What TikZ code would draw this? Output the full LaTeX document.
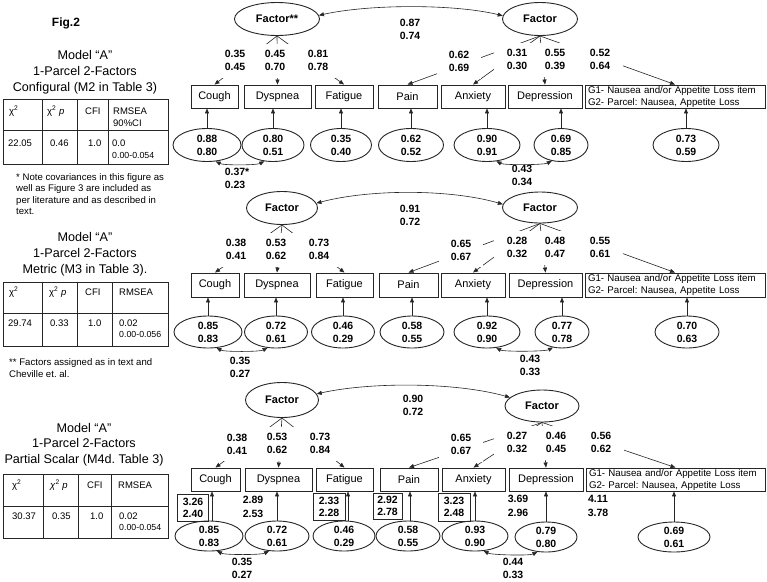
\documentclass[tikz,border=0pt]{standalone}
\usepackage{fontspec}
\setmainfont{Liberation Sans}
\usetikzlibrary{shapes.geometric,arrows.meta}
\frenchspacing
\begin{document}
\begin{tikzpicture}[x=1pt,y=-1pt,
 ln/.style={draw=black!85, line width=0.6pt},
 conn/.style={ln, -{Triangle[length=5pt,width=4pt]}},
 cov/.style={ln, {Triangle[length=5pt,width=4pt]}-{Triangle[length=5pt,width=4pt]}},
 ind/.style={draw=black!85, line width=0.9pt, inner sep=0pt, minimum height=23pt, font=\fontsize{11}{13}\selectfont},
 lat/.style={ellipse, draw=black!85, line width=0.9pt, inner sep=-2pt, font=\bfseries\fontsize{11}{13}\selectfont},
 err/.style={ellipse, draw=black!85, line width=0.9pt, inner sep=-2pt, minimum height=33pt, align=center, font=\bfseries\fontsize{10.5}{13}\selectfont},
 num/.style={align=center, inner sep=0pt, font=\bfseries\fontsize{10.5}{13}\selectfont},
 lab/.style={num, fill=white, minimum width=46pt, minimum height=34pt},
 icb/.style={num, draw=black!85, line width=0.8pt, font=\bfseries\fontsize{10.5}{12}\selectfont},
 icn/.style={num, font=\bfseries\fontsize{10.5}{13.5}\selectfont},
 gbox/.style={ind, align=left, inner xsep=3pt, text width=174pt, font=\fontsize{9.7}{12}\selectfont},
 tbl/.style={draw=black!85, line width=0.9pt},
 tt/.style={anchor=base west, inner sep=0pt, font=\fontsize{9.5}{12}\selectfont},
 ts/.style={anchor=base west, inner sep=0pt, font=\fontsize{8.8}{11}\selectfont},
 ttl/.style={align=center, inner sep=0pt, font=\fontsize{12.6}{16}\selectfont},
 note/.style={align=left, anchor=west, inner sep=0pt, font=\fontsize{9.6}{11.5}\selectfont},
]
\useasboundingbox (0,0) rectangle (767,581);
\fill[white] (0,0) rectangle (767,581);

% ---------------- left column ----------------
\node[font=\bfseries\fontsize{12}{14}\selectfont, inner sep=0pt] (fig) at (66,23) {Fig.2};

\node[ttl] (t1) at (85,72) {Model “A”\\1-Parcel 2-Factors\\Configural (M2 in Table 3)};
\draw[tbl] (3,99) rectangle (168,164);
\draw[tbl] (3,130) -- (168,130);
\foreach \x in {42,77,108} \draw[tbl] (\x,99) -- (\x,164);
\node[tt] (t1a) at (9,114) {χ\textsuperscript{2}};
\node[tt] (t1b) at (47,114) {χ\textsuperscript{2} \textit{p}};
\node[tt] (t1c) at (85,114) {CFI};
\node[tt] (t1d) at (113,114) {RMSEA};
\node[tt] (t1e) at (113,126) {90\%CI};
\node[tt] (t1f) at (8,146.5) {22.05};
\node[tt] (t1g) at (50,146.5) {0.46};
\node[tt] (t1h) at (88,146.5) {1.0};
\node[tt] (t1i) at (112,146.5) {0.0};
\node[ts] (t1j) at (112,158) {0.00-0.054};
\node[note] (n1) at (16,194) {* Note covariances in this figure as\\well as Figure 3 are included as\\per literature and as described in\\text.};

\node[ttl] (t2) at (85,254.5) {Model “A”\\1-Parcel 2-Factors\\Metric (M3 in Table 3).};
\draw[tbl] (3,282) rectangle (168,346);
\draw[tbl] (3,313) -- (168,313);
\foreach \x in {42,77,112} \draw[tbl] (\x,282) -- (\x,346);
\node[tt] (t2a) at (9,295.4) {χ\textsuperscript{2}};
\node[tt] (t2b) at (49,295.4) {χ\textsuperscript{2} \textit{p}};
\node[tt] (t2c) at (85,295.4) {CFI};
\node[tt] (t2d) at (119,295.4) {RMSEA};
\node[tt] (t2f) at (8,326.4) {29.74};
\node[tt] (t2g) at (50,326.4) {0.33};
\node[tt] (t2h) at (88,326.4) {1.0};
\node[tt] (t2i) at (119,326.4) {0.02};
\node[ts] (t2j) at (119,337.5) {0.00-0.056};
\node[note] (n2) at (9,368) {** Factors assigned as in text and\\Cheville et. al.};

\node[ttl, font=\fontsize{12.6}{15.5}\selectfont] (t3) at (84,444.5) {Model “A”\\1-Parcel 2-Factors\\Partial Scalar (M4d. Table 3)};
\draw[tbl] (3,474) rectangle (168,538);
\draw[tbl] (3,506) -- (168,506);
\foreach \x in {43,78,111} \draw[tbl] (\x,474) -- (\x,538);
\node[tt] (t3a) at (12,488.4) {χ\textsuperscript{2}};
\node[tt] (t3b) at (50,488.4) {\textit{χ}\textsuperscript{2} \textit{p}};
\node[tt] (t3c) at (87,488.4) {CFI};
\node[tt] (t3d) at (118,488.4) {RMSEA};
\node[tt] (t3f) at (12,519.4) {30.37};
\node[tt] (t3g) at (52,519.4) {0.35};
\node[tt] (t3h) at (90,519.4) {1.0};
\node[tt] (t3i) at (119,519.4) {0.02};
\node[ts] (t3j) at (119,530.5) {0.00-0.054};

% ---------------- panel 1 ----------------
\node[lat, minimum width=85pt, minimum height=33pt] (fa1) at (277,19) {Factor**};
\node[lat, minimum width=75pt, minimum height=33pt] (fb1) at (540,19) {Factor};
\node[ind, minimum width=47pt] (c1) at (214.5,96.5) {Cough};
\node[ind, minimum width=67pt] (d1) at (277.5,96.5) {Dyspnea};
\node[ind, minimum width=58pt] (f1) at (344,96.5) {Fatigue};
\node[ind, minimum width=59pt] (p1) at (407.5,96.5) {Pain};
\node[ind, minimum width=64pt] (a1) at (473,96.5) {Anxiety};
\node[ind, minimum width=74pt] (dp1) at (545,96.5) {Depression};
\node[gbox] (g1) at (675,96.5) {G1- Nausea and/or Appetite Loss item\\G2- Parcel: Nausea, Appetite Loss};
\node[err, minimum width=68pt] (ec1) at (207,145) {0.88\\0.80};
\node[err, minimum width=62pt] (ed1) at (273,145) {0.80\\0.51};
\node[err, minimum width=61pt] (ef1) at (341,145) {0.35\\0.40};
\node[err, minimum width=65pt] (ep1) at (411,145) {0.62\\0.52};
\node[err, minimum width=66pt] (ea1) at (487,145) {0.90\\0.91};
\node[err, minimum width=54pt] (edp1) at (561,145) {0.69\\0.85};
\node[err, minimum width=66pt] (eg1) at (686,145) {0.73\\0.59};
\foreach \e/\b in {ec1/c1,ed1/d1,ef1/f1,ep1/p1,ea1/a1,edp1/dp1,eg1/g1}
  \draw[conn] (\e.north) -- (\e.north |- \b.south);
\foreach \b in {c1,d1,f1} \draw[conn] (fa1.south) -- (\b.north);
\foreach \b in {p1,a1,dp1,g1} \draw[conn] (fb1.south) -- (\b.north);
\node[lab] (la1) at (235,60.5) {0.35\\0.45};
\node[lab] (lb1) at (275,60.5) {0.45\\0.70};
\node[lab] (lc1) at (318,60.5) {0.81\\0.78};
\node[lab, minimum width=44pt] (ld1) at (459,61.5) {0.62\\0.69};
\node[lab] (le1) at (517,59.5) {0.31\\0.30};
\node[lab] (lf1) at (555,59.5) {0.55\\0.39};
\node[lab] (lg1) at (600,59.5) {0.52\\0.64};
\draw[cov] (fa1.5) .. controls (370,4) and (455,4) .. (fb1.175);
\node[num] (lfc1) at (410,29.5) {0.87\\0.74};
\draw[cov] (ec1.-62) .. controls +(8,4) and +(-8,4) .. (ed1.-118);
\node[num] (lec1) at (235,178) {0.37\rlap{*}\\0.23};
\draw[cov] (ea1.-60) .. controls +(8,4) and +(-8,4) .. (edp1.-120);
\node[num] (lea1) at (522,175.5) {0.43\\0.34};

% ---------------- panel 2 ----------------
\node[lat, minimum width=71pt, minimum height=33pt] (fa2) at (282,208) {Factor};
\node[lat, minimum width=75pt, minimum height=31pt] (fb2) at (540,207.5) {Factor};
\node[ind, minimum width=48pt, minimum height=24pt] (c2) at (215,285) {Cough};
\node[ind, minimum width=66pt, minimum height=24pt] (d2) at (277,285) {Dyspnea};
\node[ind, minimum width=57pt, minimum height=24pt] (f2) at (344.5,285) {Fatigue};
\node[ind, minimum width=59pt, minimum height=24pt] (p2) at (408.5,285) {Pain};
\node[ind, minimum width=64pt, minimum height=24pt] (a2) at (473,285) {Anxiety};
\node[ind, minimum width=73pt, minimum height=24pt] (dp2) at (545.5,285) {Depression};
\node[gbox, minimum height=24pt] (g2) at (675,285) {G1- Nausea and/or Appetite Loss item\\G2- Parcel: Nausea, Appetite Loss};
\node[err, minimum width=68pt, minimum height=32pt] (ec2) at (208,332) {0.85\\0.83};
\node[err, minimum width=63pt, minimum height=32pt] (ed2) at (276,332) {0.72\\0.61};
\node[err, minimum width=63pt, minimum height=32pt] (ef2) at (343,332) {0.46\\0.29};
\node[err, minimum width=64pt, minimum height=32pt] (ep2) at (412,332) {0.58\\0.55};
\node[err, minimum width=66pt, minimum height=32pt] (ea2) at (487,332) {0.92\\0.90};
\node[err, minimum width=54pt, minimum height=32pt] (edp2) at (562,332) {0.77\\0.78};
\node[err, minimum width=64pt, minimum height=32pt] (eg2) at (687,332) {0.70\\0.63};
\foreach \e/\b in {ec2/c2,ed2/d2,ef2/f2,ep2/p2,ea2/a2,edp2/dp2,eg2/g2}
  \draw[conn] (\e.north) -- (\e.north |- \b.south);
\foreach \b in {c2,d2,f2} \draw[conn] (fa2.south) -- (\b.north);
\foreach \b in {p2,a2,dp2,g2} \draw[conn] (fb2.south) -- (\b.north);
\node[lab] (la2) at (236,249.5) {0.38\\0.41};
\node[lab] (lb2) at (276,249.5) {0.53\\0.62};
\node[lab] (lc2) at (319,249.5) {0.73\\0.84};
\node[lab, minimum width=44pt] (ld2) at (461,250) {0.65\\0.67};
\node[lab] (le2) at (517,247.5) {0.28\\0.32};
\node[lab] (lf2) at (555,247.5) {0.48\\0.47};
\node[lab] (lg2) at (600,247.5) {0.55\\0.61};
\draw[cov] (fa2.8) .. controls (370,189) and (450,189) .. (fb2.175);
\node[num] (lfc2) at (410,215.5) {0.91\\0.72};
\draw[cov] (ec2.-62) .. controls +(8,4) and +(-8,4) .. (ed2.-118);
\node[num] (lec2) at (240,367) {0.35\\0.27};
\draw[cov] (ea2.-60) .. controls +(8,4) and +(-8,4) .. (edp2.-120);
\node[num] (lea2) at (530,365.5) {0.43\\0.33};

% ---------------- panel 3 ----------------
\node[lat, minimum width=73pt, minimum height=35pt] (fa3) at (282,400) {Factor};
\node[lat, minimum width=74pt, minimum height=32pt] (fb3) at (542,406) {Factor};
\node[ind, minimum width=49pt] (c3) at (215.5,479.5) {Cough};
\node[ind, minimum width=67pt] (d3) at (278.5,479.5) {Dyspnea};
\node[ind, minimum width=57pt] (f3) at (344.5,479.5) {Fatigue};
\node[ind, minimum width=58pt] (p3) at (409,479.5) {Pain};
\node[ind, minimum width=63pt] (a3) at (473.5,479.5) {Anxiety};
\node[ind, minimum width=74pt] (dp3) at (546,479.5) {Depression};
\node[gbox, text width=173pt] (g3) at (675.5,479.5) {G1- Nausea and/or Appetite Loss item\\G2- Parcel: Nausea, Appetite Loss};
\node[err, minimum width=68pt, minimum height=30pt] (ec3) at (209,536) {0.85\\0.83};
\node[err, minimum width=64pt, minimum height=30pt] (ed3) at (277,536) {0.72\\0.61};
\node[err, minimum width=62pt, minimum height=30pt] (ef3) at (344,536) {0.46\\0.29};
\node[err, minimum width=64pt, minimum height=30pt] (ep3) at (408,536) {0.58\\0.55};
\node[err, minimum width=66pt, minimum height=30pt] (ea3) at (475,536) {0.93\\0.90};
\node[err, minimum width=62pt, minimum height=30pt] (edp3) at (546,537) {0.79\\0.80};
\node[err, minimum width=72pt, minimum height=30pt] (eg3) at (674,537) {0.69\\0.61};
\node[icb, minimum width=31pt, minimum height=27pt] (ic1) at (193,507.5) {3.26\\2.40};
\node[icb, minimum width=32pt, minimum height=27pt] (ic3) at (329,506.5) {2.33\\2.28};
\node[icb, minimum width=29pt, minimum height=26pt] (ic4) at (387.5,506) {2.92\\2.78};
\node[icb, minimum width=32pt, minimum height=28pt] (ic5) at (454,507) {3.23\\2.48};
\node[icn] (ic2) at (253,507) {2.89\\2.53};
\node[icn] (ic6) at (518,506) {3.69\\2.96};
\node[icn] (ic7) at (598,506) {4.11\\3.78};
\coordinate (x31) at ([xshift=3pt]ec3.north);
\coordinate (x33) at ([xshift=4pt]ef3.north);
\coordinate (x34) at ([xshift=2pt]ep3.north);
\draw[conn] (x31) -- (x31 |- c3.south);
\draw[conn] (x33) -- (x33 |- f3.south);
\draw[conn] (x34) -- (x34 |- p3.south);
\foreach \e/\b in {ed3/d3,ea3/a3,edp3/dp3,eg3/g3}
  \draw[conn] (\e.north) -- (\e.north |- \b.south);
\foreach \b in {c3,d3,f3} \draw[conn] (fa3.south) -- (\b.north);
\foreach \b in {p3,a3,dp3,g3} \draw[conn] (fb3.south) -- (\b.north);
\node[lab] (la3) at (237,444) {0.38\\0.41};
\node[lab] (lb3) at (277,443.5) {0.53\\0.62};
\node[lab] (lc3) at (320,443.5) {0.73\\0.84};
\node[lab, minimum width=44pt] (ld3) at (461,444.5) {0.65\\0.67};
\node[lab] (le3) at (517,442.5) {0.27\\0.32};
\node[lab] (lf3) at (556,442.5) {0.46\\0.45};
\node[lab] (lg3) at (601,442.5) {0.56\\0.62};
\draw[cov] (fa3.10) .. controls (370,382) and (455,382) .. (fb3.165);
\node[num] (lfc3) at (413,405.5) {0.90\\0.72};
\draw[cov] (ec3.-62) .. controls +(8,4) and +(-8,4) .. (ed3.-118);
\node[num] (lec3) at (242,568.5) {0.35\\0.27};
\draw[cov] (ea3.-60) .. controls +(8,4) and +(-8,4) .. (edp3.-120);
\node[num] (lea3) at (513,568) {0.44\\0.33};
\end{tikzpicture}
\end{document}
